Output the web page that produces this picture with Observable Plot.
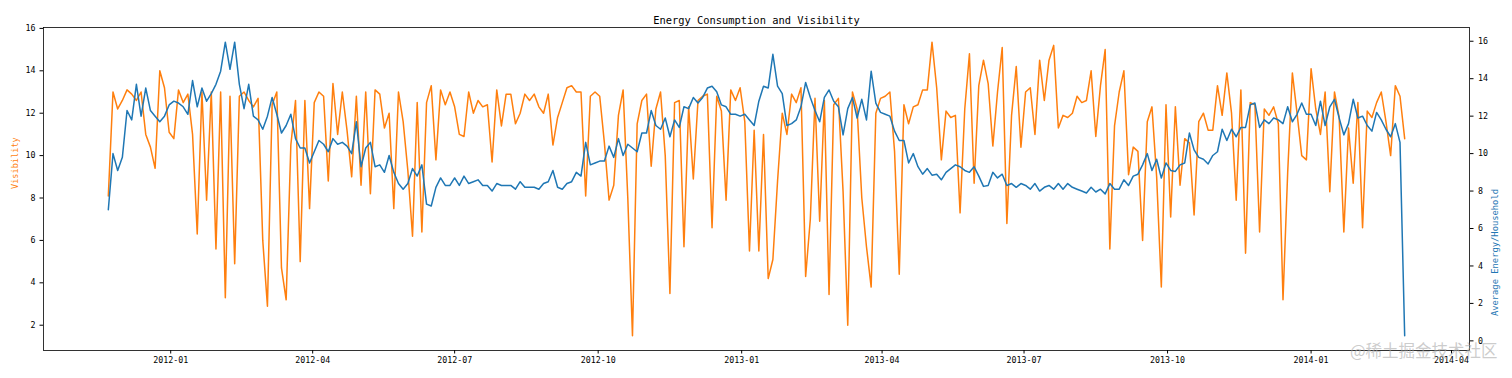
<!DOCTYPE html>
<html>
<head>
<meta charset="utf-8">
<script src="https://cdn.jsdelivr.net/npm/d3@7"></script>
<script src="https://cdn.jsdelivr.net/npm/@observablehq/plot@0.6"></script>
<style>
  html, body { margin: 0; padding: 0; background: #fff; }
  #chart { width: 1512px; height: 378px; }
</style>
</head>
<body>
<div id="chart"></div>
<script>
// ---- data (one sample every 3 days) ----
const title = "Energy Consumption and Visibility";
const leftLabel = "Visibility";
const rightLabel = "Average Energy/Household";
const watermark = "@稀土掘金技术社区";
const startDate = "2011-11-22";
const stepDays = 3;

const visibility = [
  8.1, 13.0, 12.2, 12.6, 13.1, 12.9, 12.6, 13.0, 11.0, 10.4,
  9.4, 14.0, 13.2, 11.1, 10.8, 13.1, 12.5, 12.9, 11.0, 6.3,
  13.0, 7.9, 13.0, 5.6, 13.0, 3.3, 12.8, 4.9, 12.8, 13.0,
  12.6, 12.3, 12.7, 6.0, 2.9, 12.4, 13.0, 4.7, 3.2, 10.5,
  12.6, 5.0, 12.6, 7.5, 12.5, 13.0, 12.8, 8.8, 13.4, 11.0,
  13.0, 11.2, 9.0, 12.8, 8.6, 13.0, 8.2, 13.1, 12.9, 11.3,
  12.0, 7.5, 13.0, 11.6, 9.3, 6.2, 12.5, 6.4, 12.5, 13.3,
  9.8, 13.1, 12.4, 13.0, 12.3, 11.0, 10.9, 13.0, 12.0, 12.6,
  12.3, 12.4, 9.7, 13.1, 11.4, 12.9, 12.9, 11.5, 12.0, 12.9,
  12.6, 12.9, 12.3, 12.0, 12.9, 10.5, 11.8, 12.5, 13.2, 13.3,
  13.0, 13.0, 8.1, 12.8, 13.0, 12.8, 10.6, 7.9, 8.6, 11.9,
  13.1, 8.0, 1.5, 11.5, 12.6, 12.9, 9.5, 12.2, 13.0, 10.0,
  3.5, 12.5, 12.6, 5.7, 12.3, 8.9, 12.6, 12.8, 12.9, 6.6,
  12.8, 12.1, 7.9, 13.1, 12.6, 13.2, 11.6, 5.5, 11.2, 5.5,
  11.0, 4.2, 5.1, 8.8, 12.0, 11.0, 12.9, 12.5, 13.2, 4.3,
  7.0, 12.7, 6.9, 12.6, 3.45, 12.4, 12.7, 8.3, 2.0, 13.0,
  12.2, 8.0, 5.7, 3.8, 12.0, 12.7, 12.8, 13.0, 10.2, 4.4,
  12.4, 11.5, 12.3, 12.4, 13.1, 13.1, 15.35, 13.2, 9.8, 12.1,
  11.8, 11.9, 7.3, 12.2, 14.8, 8.7, 13.3, 14.5, 13.4, 10.45,
  13.0, 15.1, 6.8, 11.9, 14.2, 10.4, 13.0, 13.2, 11.0, 14.5,
  12.6, 14.5, 15.2, 11.3, 11.9, 11.8, 12.0, 12.8, 12.5, 12.6,
  14.0, 10.9, 13.3, 15.0, 5.6, 11.4, 13.0, 14.0, 9.1, 10.4,
  10.2, 6.0, 11.6, 12.3, 9.0, 3.8, 12.4, 7.1, 12.3, 8.6,
  10.8, 10.6, 7.2, 11.6, 12.0, 11.2, 11.2, 13.3, 11.9, 13.9,
  12.0, 7.9, 13.1, 5.4, 12.5, 12.4, 6.4, 12.2, 11.9, 12.3,
  11.5, 3.2, 9.2, 13.9, 12.0, 10.0, 9.8, 14.1, 12.2, 11.0,
  13.0, 8.3, 13.0, 11.8, 6.4, 11.3, 8.7, 12.5, 6.6, 12.1,
  11.8, 12.5, 13.0, 11.6, 10.0, 13.3, 12.8, 10.8
];

const energy = [
  7.0, 10.0, 9.1, 9.8, 12.3, 11.8, 13.7, 12.0, 13.5, 12.3,
  12.0, 11.7, 12.0, 12.6, 12.8, 12.7, 12.5, 12.1, 13.9, 12.5,
  13.5, 12.8, 13.2, 13.7, 14.4, 15.95, 14.5, 15.95, 13.7, 12.4,
  13.7, 12.0, 11.8, 11.3, 12.0, 13.0, 12.1, 11.1, 11.5, 12.1,
  10.8, 10.3, 10.3, 9.5, 10.1, 10.7, 10.5, 10.1, 10.8, 10.5,
  10.6, 10.4, 10.0, 11.7, 9.3, 10.3, 10.6, 9.3, 9.4, 9.0,
  9.9, 9.0, 8.4, 8.1, 8.4, 9.2, 8.8, 9.4, 7.3, 7.2,
  8.2, 8.7, 8.3, 8.3, 8.7, 8.3, 8.8, 8.4, 8.5, 8.6,
  8.3, 8.3, 8.0, 8.4, 8.3, 8.3, 8.3, 8.1, 8.5, 8.2,
  8.2, 8.2, 8.1, 8.4, 8.5, 9.1, 8.2, 8.1, 8.4, 8.5,
  9.0, 8.8, 10.6, 9.4, 9.5, 9.6, 9.6, 10.4, 9.8, 10.8,
  9.9, 10.5, 10.3, 10.1, 11.1, 11.1, 12.3, 11.5, 11.3, 11.9,
  10.9, 11.8, 11.4, 12.5, 12.4, 13.0, 12.7, 13.0, 13.5, 13.6,
  13.3, 12.6, 12.5, 12.1, 12.1, 12.0, 12.1, 11.8, 11.5, 12.8,
  13.6, 13.5, 15.3, 13.6, 13.2, 11.5, 11.6, 11.8, 12.5, 13.8,
  13.0, 12.3, 11.7, 13.0, 13.4, 12.8, 12.5, 11.0, 12.4, 13.0,
  11.9, 12.9, 11.8, 14.4, 12.7, 12.2, 12.1, 12.0, 11.2, 10.7,
  10.7, 9.5, 10.0, 9.3, 8.9, 9.2, 8.85, 8.9, 8.6, 9.0,
  9.2, 9.4, 9.3, 9.1, 9.0, 9.3, 8.8, 8.25, 8.3, 9.0,
  8.7, 8.9, 8.3, 8.4, 8.2, 8.4, 8.3, 8.1, 8.4, 8.0,
  8.2, 8.3, 8.1, 8.4, 8.1, 8.4, 8.2, 8.1, 8.0, 7.9,
  8.2, 7.95, 8.1, 7.85, 8.4, 8.1, 8.1, 8.6, 8.3, 8.8,
  8.9, 9.4, 10.0, 9.1, 9.7, 8.7, 9.5, 9.1, 9.05, 9.4,
  9.5, 11.1, 10.2, 9.8, 9.7, 9.45, 9.9, 10.1, 11.3, 10.7,
  11.3, 10.9, 11.4, 11.4, 12.6, 12.7, 11.4, 11.8, 11.6, 11.9,
  11.8, 11.6, 12.5, 11.7, 12.1, 12.7, 12.1, 12.1, 11.5, 12.8,
  11.5, 12.5, 12.9, 11.9, 11.0, 11.6, 12.9, 11.9, 12.0, 11.5,
  11.2, 12.2, 11.8, 11.3, 10.9, 11.6, 10.6, 0.27
];

const xTicks = ["2012-01", "2012-04", "2012-07", "2012-10", "2013-01",
                "2013-04", "2013-07", "2013-10", "2014-01", "2014-04"];
const leftTicks = [2, 4, 6, 8, 10, 12, 14, 16];
const rightTicks = [0, 2, 4, 6, 8, 10, 12, 14, 16];

// ---- build table ----
const t0 = d3.utcParse("%Y-%m-%d")(startDate);
const DAY = 864e5;
const rows = visibility.map((v, i) => ({
  date: new Date(+t0 + i * stepDays * DAY),
  vis: v,
  energy: energy[i]
}));

// matplotlib-like 5% margins
const pad = ([a, b]) => [a - 0.05 * (b - a), b + 0.05 * (b - a)];
const xDom = pad(d3.extent(rows, d => +d.date)).map(t => new Date(t));
const L = pad(d3.extent(visibility));
const R = pad(d3.extent(energy));
const toL = v => L[0] + (v - R[0]) * (L[1] - L[0]) / (R[1] - R[0]);
const fromL = y => R[0] + (y - L[0]) * (R[1] - R[0]) / (L[1] - L[0]);
const xTickDates = xTicks.map(s => d3.utcParse("%Y-%m")(s));

const chart = Plot.plot({
  width: 1512,
  height: 378,
  marginLeft: 43,
  marginRight: 43,
  marginTop: 27,
  marginBottom: 28,
  style: {fontFamily: "'DejaVu Sans Mono', monospace", fontSize: "8.3px", color: "#000", background: "#fff"},
  x: {type: "utc", domain: xDom},
  y: {domain: L},
  marks: [
    Plot.line(rows, {x: "date", y: "vis", stroke: "#ff7f0e", strokeWidth: 1.5}),
    Plot.line(rows, {x: "date", y: d => toL(d.energy), stroke: "#1f77b4", strokeWidth: 1.5}),
    Plot.frame({stroke: "#000", strokeWidth: 0.8}),
    Plot.axisX(xTickDates, {tickFormat: d3.utcFormat("%Y-%m"), tickSize: 3.5, tickPadding: 3.5, label: null}),
    Plot.axisY(leftTicks, {anchor: "left", tickSize: 3.5, tickPadding: 4.5, label: null}),
    Plot.axisY(rightTicks.map(toL), {anchor: "right", tickSize: 3.5, tickPadding: 5,
      tickFormat: y => String(Math.round(fromL(y))), label: null}),
    Plot.text([title], {frameAnchor: "top", dy: -11, fontSize: 10.4, fill: "#000"}),
    Plot.text([leftLabel], {frameAnchor: "left", dx: -28, rotate: -90, fill: "#ff7f0e", fontSize: 8.6}),
    Plot.text([rightLabel], {frameAnchor: "right", dx: 26, rotate: -90, fill: "#1f77b4", fontSize: 8.8}),
    Plot.text([watermark], {frameAnchor: "bottom-right", dx: 28, dy: 6, textAnchor: "end",
      fontFamily: "'Noto Sans CJK SC'", fontSize: 16.5, fill: "#aaa", fillOpacity: 0.6})
  ]
});
document.getElementById("chart").appendChild(chart);
</script>
</body>
</html>
